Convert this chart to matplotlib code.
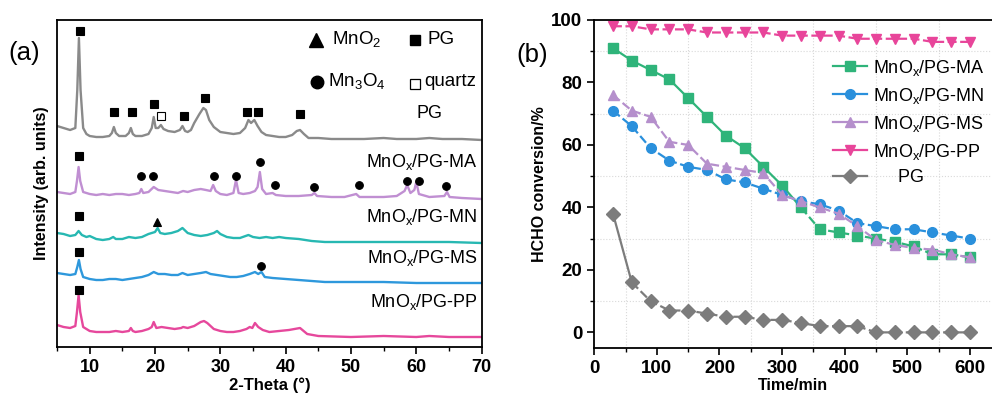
import numpy as np
import matplotlib
matplotlib.use("Agg")
import matplotlib.pyplot as plt
from matplotlib.lines import Line2D

plt.rcParams["font.family"] = ["Liberation Sans", "DejaVu Sans"]
plt.rcParams["mathtext.fontset"] = "custom"
plt.rcParams["mathtext.rm"] = "Liberation Sans"
plt.rcParams["mathtext.bf"] = "Liberation Sans:bold"

# ---------------- (a) XRD patterns ----------------
# (2-theta, intensity above the high-angle baseline), arbitrary units
pg_xrd = [(5, 14), (6, 12), (7, 10), (7.8, 12), (8.1, 50), (8.35, 102), (8.6, 50), (9.0, 12),
          (9.5, 6), (10, 4), (11, 3), (12, 3), (13, 4), (13.4, 7), (13.7, 13), (14.0, 7), (14.5, 4),
          (15.5, 4), (16.0, 7), (16.3, 12), (16.6, 6), (17, 4), (18, 4), (19, 6), (19.5, 12),
          (19.8, 23), (20.1, 12), (20.5, 12), (20.9, 15), (21.3, 11), (22, 9), (23, 8), (23.8, 10),
          (24.2, 14), (24.6, 9), (25, 8), (25.5, 10), (26, 17), (26.8, 26), (27.4, 32), (27.8, 30),
          (28.3, 20), (29, 13), (30, 8), (31, 7), (32, 6), (33, 7), (33.8, 12), (34.3, 20),
          (34.7, 17), (35.2, 20), (35.7, 14), (36.3, 8), (37, 5), (38, 4), (39, 3), (40, 3), (41, 5),
          (41.7, 9), (42.2, 10), (42.8, 6), (43.5, 2), (45, 2), (47, 1), (50, 1), (52, 1), (55, 2),
          (57, 1), (60, 1), (62, 2), (64, 1), (67, 1), (70, 0)]
ma_xrd = [(5, 7), (6, 6), (7, 5), (7.8, 7), (8.05, 18), (8.3, 32), (8.55, 18), (9.0, 7), (10, 5),
          (11, 4), (12, 5), (13, 4), (14, 5), (15, 5), (16, 4), (17, 5), (17.6, 6), (17.9, 10),
          (18.2, 6), (19, 7), (19.8, 12), (20.5, 9), (21.5, 8), (22.5, 7), (23.5, 6), (24.3, 8),
          (25, 7), (26, 9), (27, 10), (27.8, 9), (28.5, 8), (28.9, 14), (29.3, 8), (30, 5), (31, 4),
          (32, 6), (32.4, 19), (32.8, 6), (33.5, 5), (34.5, 6), (35.3, 8), (35.7, 12), (36.05, 27),
          (36.4, 10), (37, 5), (38, 6), (38.5, 4), (40, 3), (42, 3), (44, 4), (44.4, 6), (44.8, 3),
          (47, 2), (49, 2), (50.8, 5), (51.3, 2), (53, 2), (55, 2), (57, 3), (58.2, 8), (58.6, 14),
          (59.1, 6), (59.7, 9), (60.0, 17), (60.4, 5), (62, 2), (64.3, 3), (64.7, 7), (65.1, 2),
          (67, 1), (70, 0)]
mn_xrd = [(5, 10), (6, 9), (7, 7), (7.8, 8), (8.3, 12), (8.8, 8), (9.5, 6), (10, 7), (11, 4),
          (12, 3), (13, 4), (13.6, 6), (14, 4), (15, 4), (16, 6), (17, 5), (18, 6), (19, 9), (20, 11),
          (20.4, 15), (20.8, 10), (21.5, 9), (22.5, 10), (23.5, 12), (24.2, 15), (25, 10), (26, 8),
          (27, 7), (28, 8), (29, 10), (29.5, 12), (30, 9), (31, 6), (32, 5), (33, 5), (34.3, 8),
          (35, 6), (36, 5), (37, 6), (38, 5), (39, 6), (40, 5), (42, 4), (44, 2), (46, 1), (50, 1),
          (55, 1), (60, 1), (65, 1), (70, 0)]
ms_xrd = [(5, 10), (6, 9), (7, 8), (7.8, 9), (8.1, 16), (8.35, 23), (8.6, 14), (9.0, 6), (10, 4),
          (11, 3), (12, 3), (13, 4), (14, 4), (15, 3), (16, 4), (17, 5), (18, 6), (19, 8),
          (19.8, 11), (20.5, 9), (21.5, 9), (22.5, 8), (23.5, 8), (24.2, 10), (25, 8), (26, 9),
          (27, 10), (27.8, 11), (28.5, 9), (29.5, 8), (30.5, 7), (31.5, 6), (32.5, 6), (33.5, 7),
          (34.5, 9), (35.3, 11), (35.8, 9), (36.3, 11), (36.8, 6), (38, 5), (40, 4), (42, 3),
          (44, 2), (46, 1), (50, 1), (55, 1), (60, 0), (65, 0), (70, 0)]
pp_xrd = [(5, 12), (6, 10), (7, 9), (7.8, 11), (8.05, 25), (8.3, 42), (8.55, 25), (9.0, 10),
          (9.5, 8), (10, 6), (11, 5), (12, 5), (13, 5), (14, 6), (15, 5), (16, 6), (16.3, 9),
          (16.6, 6), (17, 5), (18, 6), (19, 8), (19.5, 10), (19.8, 15), (20.2, 9), (21, 10), (22, 9),
          (23, 8), (24, 9), (24.3, 10), (25, 9), (26, 11), (27, 15), (27.5, 16), (28, 14), (29, 8),
          (30, 6), (31, 5), (32, 5), (33, 6), (34, 8), (34.5, 10), (34.9, 9), (35.3, 14), (35.8, 10),
          (36.5, 7), (37.5, 5), (39, 6), (40.5, 7), (42.2, 9), (43.3, 3), (45, 1), (50, 0), (55, 1),
          (60, 0), (62, 1), (65, 0), (70, 0)]

xrd_names = ["PG", "MnO$_\\mathrm{x}$/PG-MA", "MnO$_\\mathrm{x}$/PG-MN",
             "MnO$_\\mathrm{x}$/PG-MS", "MnO$_\\mathrm{x}$/PG-PP"]
xrd_data = [pg_xrd, ma_xrd, mn_xrd, ms_xrd, pp_xrd]
xrd_colors = ["#8a8a8a", "#c08fd2", "#27b8b2", "#2e98dc", "#e6489c"]
xrd_offsets = [207, 148, 104, 64, 10]

# phase markers: (curve index, phase, 2-theta, height above that curve's baseline)
phase_marks = [
    (0, "PG", 8.5, 109), (0, "PG", 13.7, 28), (0, "PG", 16.4, 28), (0, "PG", 19.8, 36),
    (0, "quartz", 20.9, 24), (0, "PG", 24.4, 24), (0, "PG", 27.6, 42), (0, "PG", 34.1, 28),
    (0, "PG", 35.8, 28), (0, "PG", 42.2, 26),
    (1, "PG", 8.4, 43), (1, "Mn3O4", 17.9, 23), (1, "Mn3O4", 19.7, 23), (1, "Mn3O4", 29.1, 23),
    (1, "Mn3O4", 32.4, 23), (1, "Mn3O4", 36.0, 37), (1, "Mn3O4", 38.4, 14), (1, "Mn3O4", 44.4, 12),
    (1, "Mn3O4", 51.2, 14), (1, "Mn3O4", 58.6, 18), (1, "Mn3O4", 60.4, 18), (1, "Mn3O4", 64.5, 13),
    (2, "PG", 8.3, 27), (2, "MnO2", 20.3, 21),
    (3, "PG", 8.4, 31), (3, "Mn3O4", 36.3, 17),
    (4, "PG", 8.4, 47),
]
phase_style = {"PG": dict(marker="s", mfc="black"),
               "quartz": dict(marker="s", mfc="white"),
               "Mn3O4": dict(marker="o", mfc="black"),
               "MnO2": dict(marker="^", mfc="black")}

# ---------------- (b) HCHO conversion ----------------
time_min = [30, 60, 90, 120, 150, 180, 210, 240, 270, 300,
            330, 360, 390, 420, 450, 480, 510, 540, 570, 600]
conv_ma = [91, 87, 84, 81, 75, 69, 63, 59, 53, 47, 40, 33, 32, 31, 30, 29, 27.5, 25, 25, 24]
conv_mn = [71, 66, 59, 55, 53, 52, 49, 48, 46, 44, 42, 41, 39, 35, 34, 33, 33, 32, 31, 30]
conv_ms = [76, 71, 69, 61, 60, 54, 53, 52, 51, 44, 42, 40, 38, 34, 29.5, 28, 27, 26.5, 25, 24]
conv_pp = [98, 98, 97, 97, 97, 96, 96, 96, 96, 95, 95, 95, 95, 94, 94, 94, 94, 93, 93, 93]
conv_pg = [38, 16, 10, 7, 7, 6, 5, 5, 4, 4, 3, 2, 2, 2, 0, 0, 0, 0, 0, 0]

conv_names = ["MnO$_\\mathrm{x}$/PG-MA", "MnO$_\\mathrm{x}$/PG-MN", "MnO$_\\mathrm{x}$/PG-MS",
              "MnO$_\\mathrm{x}$/PG-PP", "     PG"]
conv_data = [conv_ma, conv_mn, conv_ms, conv_pp, conv_pg]
conv_colors = ["#2fb47a", "#2a90dc", "#b58fcc", "#e8459a", "#7c7c7c"]
conv_markers = ["s", "o", "^", "v", "D"]
solid_until = [10, 0, 0, 0, 1]   # leading segments drawn solid, rest dashed

fig = plt.figure(figsize=(9.92, 4.0), dpi=100)

# ---- panel (a)
ax1 = fig.add_axes([0.0575, 0.1325, 0.428, 0.8175])
for pts, col, off in zip(xrd_data, xrd_colors, xrd_offsets):
    tt = [p[0] for p in pts]
    inten = [p[1] + off for p in pts]
    ax1.plot(tt, inten, color=col, lw=1.7, solid_joinstyle="round")

for idx, ph, tt, h in phase_marks:
    st = phase_style[ph]
    ax1.plot(tt, xrd_offsets[idx] + h, ls="none", marker=st["marker"], mfc=st["mfc"],
             mec="black", mew=0.8, ms=5.5)

label_pos = [(64.0, 234), (69.4, 185), (69.4, 130), (69.4, 89), (69.4, 45)]
for name, (lx, ly) in zip(xrd_names, label_pos):
    ax1.text(lx, ly, name, ha="right", va="center", fontsize=13)

# phase legend
ax1.plot(44.7, 307, marker="^", color="black", ms=10)
ax1.text(47.1, 307, "MnO$_2$", va="center", fontsize=13.5)
ax1.plot(59.8, 307, marker="s", color="black", ms=7.5)
ax1.text(61.7, 307, "PG", va="center", fontsize=13.5)
ax1.plot(44.8, 265, marker="o", color="black", ms=9)
ax1.text(46.5, 265, "Mn$_3$O$_4$", va="center", fontsize=13.5)
ax1.plot(59.8, 263, marker="s", mfc="white", mec="black", mew=0.9, ms=7.5)
ax1.text(61.2, 265, "quartz", va="center", fontsize=13.5)

ax1.set_xlim(5, 70)
ax1.set_ylim(0, 327)
ax1.set_xticks([10, 20, 30, 40, 50, 60, 70])
ax1.set_xticks([5, 15, 25, 35, 45, 55, 65], minor=True)
ax1.set_yticks([])
ax1.tick_params(axis="x", which="major", direction="out", length=5, width=1.2, labelsize=13)
ax1.tick_params(axis="x", which="minor", direction="out", length=3, width=1.0)
for lab in ax1.get_xticklabels():
    lab.set_fontweight("bold")
for sp in ax1.spines.values():
    sp.set_linewidth(1.3)
ax1.set_xlabel("2-Theta (°)", fontsize=12, fontweight="bold", labelpad=1)
ax1.set_ylabel("Intensity (arb. units)", fontsize=11.5, fontweight="bold", labelpad=6)
fig.text(0.008, 0.868, "(a)", fontsize=18.5, va="center")

# ---- panel (b)
ax2 = fig.add_axes([0.599, 0.13, 0.401, 0.82])
ax2.set_xticks([50, 150, 250, 350, 450, 550], minor=True)
ax2.set_yticks([10, 30, 50, 70, 90], minor=True)
ax2.grid(which="minor", color="#d9d9d9", ls=":", lw=0.8)
ax2.set_axisbelow(True)

handles = []
for ys, col, mk, name, ns in zip(conv_data, conv_colors, conv_markers, conv_names, solid_until):
    if ns > 0:
        ax2.plot(time_min[:ns + 1], ys[:ns + 1], color=col, lw=1.6, ls="-")
    ax2.plot(time_min[ns:], ys[ns:], color=col, lw=1.6, ls=(0, (4, 1.6)))
    ax2.plot(time_min, ys, ls="none", marker=mk, color=col, ms=7, mec=col)
    handles.append(Line2D([], [], color=col, lw=1.6, marker=mk, ms=7, label=name))

ax2.legend(handles=handles, loc="upper left", bbox_to_anchor=(0.60, 0.885), frameon=False,
           borderpad=0, borderaxespad=0, fontsize=13, handlelength=1.9,
           handletextpad=0.3, labelspacing=0.44)

ax2.set_xlim(0, 635)
ax2.set_ylim(-5, 100)
ax2.set_xticks([0, 100, 200, 300, 400, 500, 600])
ax2.set_yticks([0, 20, 40, 60, 80, 100])
ax2.tick_params(which="major", direction="out", length=5, width=1.2, labelsize=13.5)
ax2.tick_params(which="minor", direction="out", length=3, width=1.0)
for lab in ax2.get_xticklabels() + ax2.get_yticklabels():
    lab.set_fontweight("bold")
for sp in ax2.spines.values():
    sp.set_linewidth(1.3)
ax2.spines["right"].set_visible(False)
ax2.set_xlabel("Time/min", fontsize=11.5, fontweight="bold", labelpad=1)
ax2.set_ylabel("HCHO conversion/%", fontsize=11.5, fontweight="bold", labelpad=3)
fig.text(0.521, 0.8625, "(b)", fontsize=18.5, va="center")

fig.savefig("out.png", dpi=100)
